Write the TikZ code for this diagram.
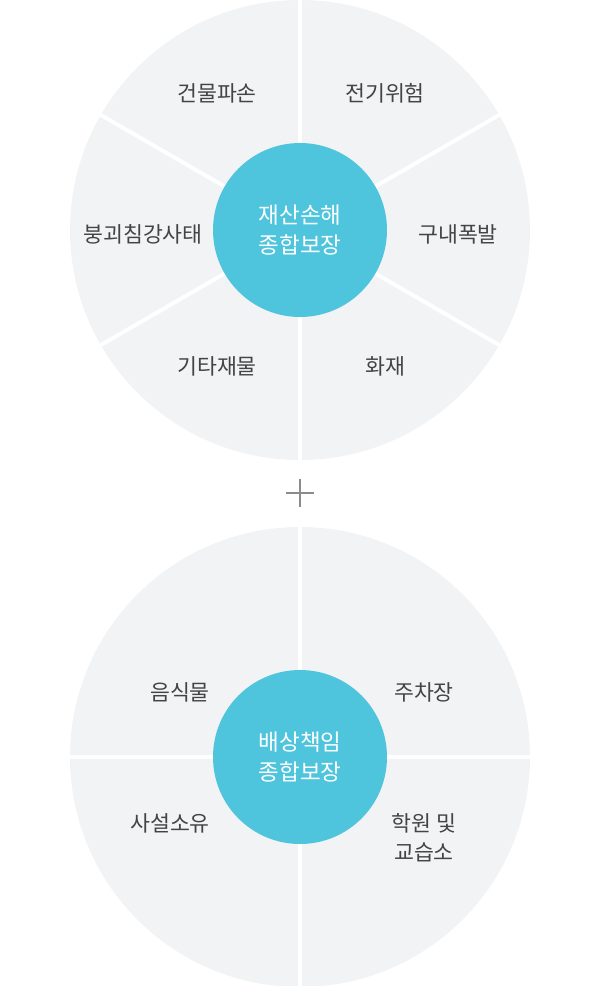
\documentclass[tikz,border=0pt]{standalone}
\usepackage{fontspec}
\setmainfont{Noto Sans CJK KR}
\usetikzlibrary{positioning}
\definecolor{wheelgray}{HTML}{F2F3F5}
\definecolor{hubcyan}{HTML}{4FC5DD}
\definecolor{labelgray}{HTML}{444444}
\definecolor{plusgray}{HTML}{8C8C8C}

\begin{document}
\begin{tikzpicture}[x=0.025cm, y=-0.025cm,
  font=\fontsize{15.4pt}{20.8pt}\selectfont,
  wheel/.style={fill=wheelgray, draw=none},
  split/.style={draw=white, line width=2.8pt},
  hub/.style={circle, fill=hubcyan, minimum size=174*0.025cm, inner sep=0pt,
              text=white, align=center, font=\fontsize{16pt}{21.3pt}\selectfont},
  part/.style={text=labelgray, align=center, inner sep=0pt},
  plus/.style={draw=plusgray, line width=1.4pt}
]
\useasboundingbox (0,0) rectangle (600,986);

% property wheel
\fill[wheel] (300,230) circle[radius=230];
\draw[split] (300,-5) -- (300,465);
\draw[split] (96.5,112.5) -- (503.5,347.5);
\draw[split] (96.5,347.5) -- (503.5,112.5);
\node[hub] (prop) at (300,230) {재산손해\\종합보장};
\node[part] (p1) at (217,93) {건물파손};
\node[part] (p2) at (385,93) {전기위험};
\node[part] (p3) at (458,234) {구내폭발};
\node[part] (p4) at (385,366) {화재};
\node[part] (p5) at (217,366) {기타재물};
\node[part] (p6) at (143,234) {붕괴침강사태};

% plus
\coordinate (plusc) at (300,493);
\draw[plus] (286,493) -- (314,493);
\draw[plus] (300,479) -- (300,507);

% liability wheel
\fill[wheel] (300,757) circle[radius=230];
\draw[split] (65,757) -- (535,757);
\draw[split] (300,522) -- (300,992);
\node[hub] (liab) at (300,757) {배상책임\\종합보장};
\node[part] (l1) at (180,692) {음식물};
\node[part] (l2) at (424,692) {주차장};
\node[part] (l3) at (170,823) {사설소유};
\node[part] (l4) at (424,838) {학원 및\\교습소};
\end{tikzpicture}
\end{document}
